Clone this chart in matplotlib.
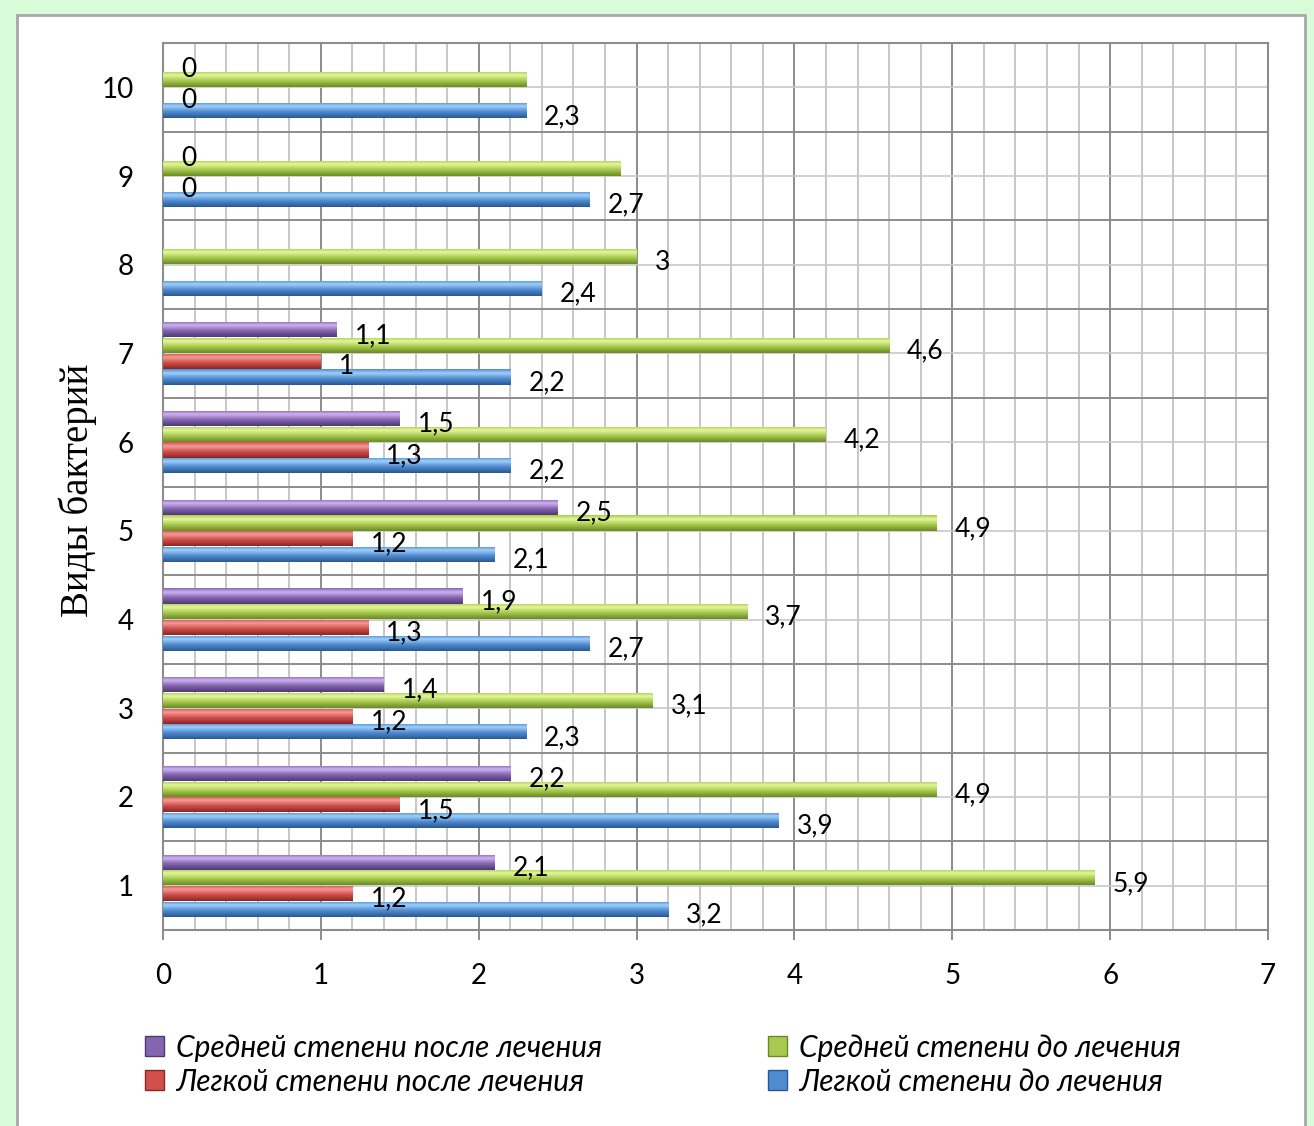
import numpy as np
import matplotlib.pyplot as plt
from matplotlib.patches import Rectangle, Patch
from matplotlib.colors import to_rgb
from matplotlib.ticker import MultipleLocator

plt.rcParams['font.family'] = ['Lato', 'Open Sans', 'DejaVu Sans']

categories = [1, 2, 3, 4, 5, 6, 7, 8, 9, 10]
light_before = [3.2, 3.9, 2.3, 2.7, 2.1, 2.2, 2.2, 2.4, 2.7, 2.3]
light_after = [1.2, 1.5, 1.2, 1.3, 1.2, 1.3, 1.0, np.nan, 0, 0]
mid_before = [5.9, 4.9, 3.1, 3.7, 4.9, 4.2, 4.6, 3.0, 2.9, 2.3]
mid_after = [2.1, 2.2, 1.4, 1.9, 2.5, 1.5, 1.1, np.nan, 0, 0]
mid_before_labeled = [True] * 8 + [False] * 2

names = ['Легкой степени до лечения', 'Легкой степени после лечения',
         'Средней степени до лечения', 'Средней степени после лечения']
# (light, main, dark) shades for the glossy look
shades = [('#9fd0fa', '#4f8bd0', '#2a5890'),
          ('#f59a97', '#cf504c', '#8a2624'),
          ('#e4f79a', '#a7c94f', '#6a8a24'),
          ('#cdb2f2', '#8466ae', '#4f3874')]


def gradient(light, main, dark, n=64):
    t = np.linspace(0, 1, n)
    stops = [0.0, 0.25, 0.6, 1.0]
    cols = [to_rgb(main), to_rgb(light), to_rgb(main), to_rgb(dark)]
    img = np.zeros((n, 1, 3))
    for c in range(3):
        img[:, 0, c] = np.interp(t, stops, [col[c] for col in cols])
    return img


fig = plt.figure(figsize=(13.14, 11.26), dpi=100, facecolor='#d8fcd8')
fig.patches.append(Rectangle((17 / 1314, -0.01), (1305 - 17) / 1314, 1 - 15 / 1126 + 0.01,
                             transform=fig.transFigure, facecolor='white',
                             edgecolor='#a8a8a8', linewidth=2, zorder=-5))

ax = fig.add_axes([163 / 1314, 1 - 930 / 1126, (1268 - 163) / 1314, (930 - 43) / 1126])
ax.set_facecolor('white')
ax.set_zorder(2)

y = np.arange(len(categories)) + 1
pitch = 0.177
bh = 0.17
series = [light_before, light_after, mid_before, mid_after]
for i, vals in enumerate(series):
    light, main, dark = shades[i]
    pos = y + (i - 1.5) * pitch
    img = gradient(light, main, dark)
    for j, (yy, v) in enumerate(zip(pos, vals)):
        if np.isnan(v):
            continue
        if v > 0:
            rect = ax.barh(yy, v, height=bh, color=main, edgecolor='none', zorder=3)[0]
            im = ax.imshow(img, extent=[0, v, yy - bh / 2, yy + bh / 2], aspect='auto',
                           origin='upper', zorder=4, interpolation='bilinear')
            im.set_clip_path(rect)
        if i == 2 and not mid_before_labeled[j]:
            continue
        ax.annotate(f'{v:g}'.replace('.', ','), (v, yy), xytext=(13, -4),
                    textcoords='offset points', ha='left', va='center',
                    fontsize=19, zorder=6)

ax.set_xlim(0, 7)
ax.set_ylim(0.5, 10.5)
ax.set_aspect('auto')
ax.xaxis.set_major_locator(MultipleLocator(1))
ax.xaxis.set_minor_locator(MultipleLocator(0.2))
ax.set_yticks(y)
ax.set_yticks(np.arange(0.5, 11, 1), minor=True)
ax.grid(which='major', axis='x', color='#8c8c8c', linewidth=1.4, zorder=1)
ax.grid(which='minor', axis='x', color='#bdbdbd', linewidth=1.2, zorder=1)
ax.grid(which='minor', axis='y', color='#8c8c8c', linewidth=1.4, zorder=1)
ax.grid(which='major', axis='y', color='#c8c8c8', linewidth=1.2, zorder=1)
ax.set_axisbelow(True)
for s in ax.spines.values():
    s.set_color('#8c8c8c')
    s.set_linewidth(1.5)
ax.tick_params(axis='x', which='major', length=7, width=1.4, color='#8c8c8c',
               labelsize=20, pad=17)
ax.tick_params(axis='x', which='minor', length=0)
ax.tick_params(axis='y', which='both', length=0, labelsize=20, pad=21)

fig.text(78 / 1314, 1 - 490 / 1126, 'Виды бактерий', rotation=90, ha='center',
         va='center', fontsize=28, family=['Liberation Serif', 'DejaVu Serif'])

handles = [Patch(facecolor=shades[i][1], edgecolor=shades[i][2]) for i in range(4)]
leg_kw = dict(frameon=False, handlelength=0.65, handleheight=0.65,
              handletextpad=0.4, labelspacing=0.2, loc='upper left',
              prop={'style': 'italic', 'size': 21.5})
fig.legend([handles[3], handles[1]], [names[3], names[1]],
           bbox_to_anchor=(118 / 1314, 1 - 1007 / 1126), **leg_kw)
fig.legend([handles[2], handles[0]], [names[2], names[0]],
           bbox_to_anchor=(741 / 1314, 1 - 1007 / 1126), **leg_kw)

fig.savefig('out.png', dpi=100, facecolor=fig.get_facecolor())
